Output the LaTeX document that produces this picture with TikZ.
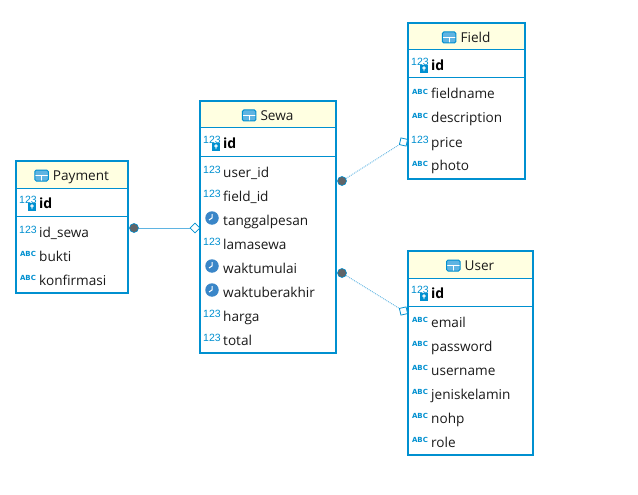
\documentclass[tikz,border=0pt]{standalone}
\usepackage{fontspec}
\setmainfont{Open Sans}
\newfontfamily\iconfont{Liberation Sans}
\newfontfamily\abcfont{DejaVu Sans}
\usetikzlibrary{shapes.geometric,positioning}

\definecolor{erdblue}{HTML}{0090D0}
\definecolor{erdicon}{HTML}{3A86C8}
\definecolor{erdline}{HTML}{5FB4E2}
\definecolor{erdhead}{HTML}{FFFFE1}
\definecolor{erddot}{HTML}{5F6468}
\definecolor{erdtext}{HTML}{1A1A1A}

\tikzset{
    tablebox/.style={draw=erdblue, fill=white, line width=2pt, anchor=north west, inner sep=0pt, outer sep=0pt},
    headbox/.style={fill=erdhead, anchor=north west, inner sep=0pt, outer sep=0pt},
    sepline/.style={draw=erdblue, line width=1pt},
    titletext/.style={text=erdtext, inner sep=0pt, text height=10pt, text depth=3pt, font=\fontsize{13.6}{16}\selectfont},
    fieldtext/.style={text=erdtext, anchor=west, inner sep=0pt, text height=10pt, text depth=3pt, font=\fontsize{13.6}{16}\selectfont},
    idtext/.style={fieldtext, font=\fontsize{14}{16}\selectfont\bfseries, text=black},
    numicon/.style={text=erdblue, inner sep=0pt, font=\iconfont\fontsize{10.5}{12}\selectfont, node contents={123}},
    abcicon/.style={text=erdblue, inner sep=0pt, font=\abcfont\bfseries\fontsize{7}{9}\selectfont, node contents={ABC}},
    clockicon/.style={circle, fill=erdicon, inner sep=0pt, minimum size=13.5pt, node contents={},
        path picture={\draw[white, line width=1pt] (path picture bounding box.center) ++(0,-4) -- ++(0,4) -- ++(-3,2);}},
    keyicon/.style={rectangle, fill=erdblue, inner sep=0pt, minimum size=7.5pt,
        path picture={\draw[white, line width=.8pt] (path picture bounding box.center) ++(0,-1) circle (1.2pt) ++(0,1.2) -- ++(0,2);}},
    gridicon/.style={rectangle, rounded corners=1.5pt, draw=erdblue, fill=erdline, line width=1pt, inner sep=0pt, minimum width=13.5pt, minimum height=11pt,
        path picture={\draw[white, line width=1pt] (path picture bounding box.west) -- (path picture bounding box.east)
            (path picture bounding box.center) -- (path picture bounding box.south);}},
    reldot/.style={circle, fill=erddot, draw=erdblue, line width=.6pt, inner sep=0pt, minimum size=9pt},
    relend/.style={diamond, aspect=1, draw=erdblue, fill=white, line width=.8pt, inner sep=0pt, minimum size=10pt},
    relline/.style={draw=erdline, line width=.9pt},
}

% name, left, right, top, bottom, title, rows
\newcommand{\erdtable}[7]{
    \pgfmathsetmacro\tw{#3-#2}
    \pgfmathsetmacro\th{#5-#4}
    \node[tablebox, minimum width=\tw pt, minimum height=\th pt] (#1) at (#2,#4) {};
    \pgfmathsetmacro\hw{\tw-2}
    \node[headbox, minimum width=\hw pt, minimum height=26pt] (#1-head) at (#2+1,#4+1) {};
    \draw[sepline] (#2,#4+27) -- (#3,#4+27);
    \draw[sepline] (#2,#4+55) -- (#3,#4+55);
    \node[titletext] (#1-title) at ({(#2+#3)/2+9},#4+16) {#6};
    \node[gridicon, left=4pt of #1-title, yshift=1.5pt] (#1-grid) {};
    % primary key row
    \node[name=#1-idnum, at={(#2+12,#4+39)}, numicon];
    \node[keyicon] (#1-key) at (#2+16,#4+46) {};
    \node[idtext] (#1-id) at (#2+23,#4+44) {id};
    % other rows
    \foreach \kind/\label [count=\i] in {#7} {
        \pgfmathsetmacro\rowy{#4+70+24*(\i-1)}
        \node[name=#1-icon-\i, at={(#2+12,\rowy-1)}, \kind];
        \node[fieldtext] (#1-row-\i) at (#2+23,\rowy+2.5) {\label};
    }
}

\begin{document}
\begin{tikzpicture}[x=1pt,y=-1pt]
        \useasboundingbox (0,0) rectangle (638,495);

        % Draw tables
        \erdtable{payment}{16}{128}{161}{293}{Payment}{numicon/id\_sewa,abcicon/bukti,abcicon/konfirmasi}
        \erdtable{sewa}{200}{336}{101}{353}{Sewa}{numicon/user\_id,numicon/field\_id,clockicon/tanggalpesan,numicon/lamasewa,clockicon/waktumulai,clockicon/waktuberakhir,numicon/harga,numicon/total}
        \erdtable{field}{408}{525}{23}{179}{Field}{abcicon/fieldname,abcicon/description,numicon/price,abcicon/photo}
        \erdtable{user}{408}{533}{251}{455}{User}{abcicon/email,abcicon/password,abcicon/username,abcicon/jeniskelamin,abcicon/nohp,abcicon/role}

        % Define relation ends
        \node[relend] (payment-end) at (195,228) {};
        \node[relend, rotate=32] (field-end) at (403.5,142) {};
        \node[relend, rotate=-32] (user-end) at (403.5,311) {};
        \node[reldot] (payment-dot) at (134,228) {};
        \node[reldot] (sewa-dot-a) at (342,181) {};
        \node[reldot] (sewa-dot-b) at (342,273) {};

        % Draw relations
        \draw[relline] (payment-dot) -- (payment-end);
        \draw[relline, densely dotted] (sewa-dot-a) -- (field-end);
        \draw[relline, densely dotted] (sewa-dot-b) -- (user-end);
\end{tikzpicture}
\end{document}
